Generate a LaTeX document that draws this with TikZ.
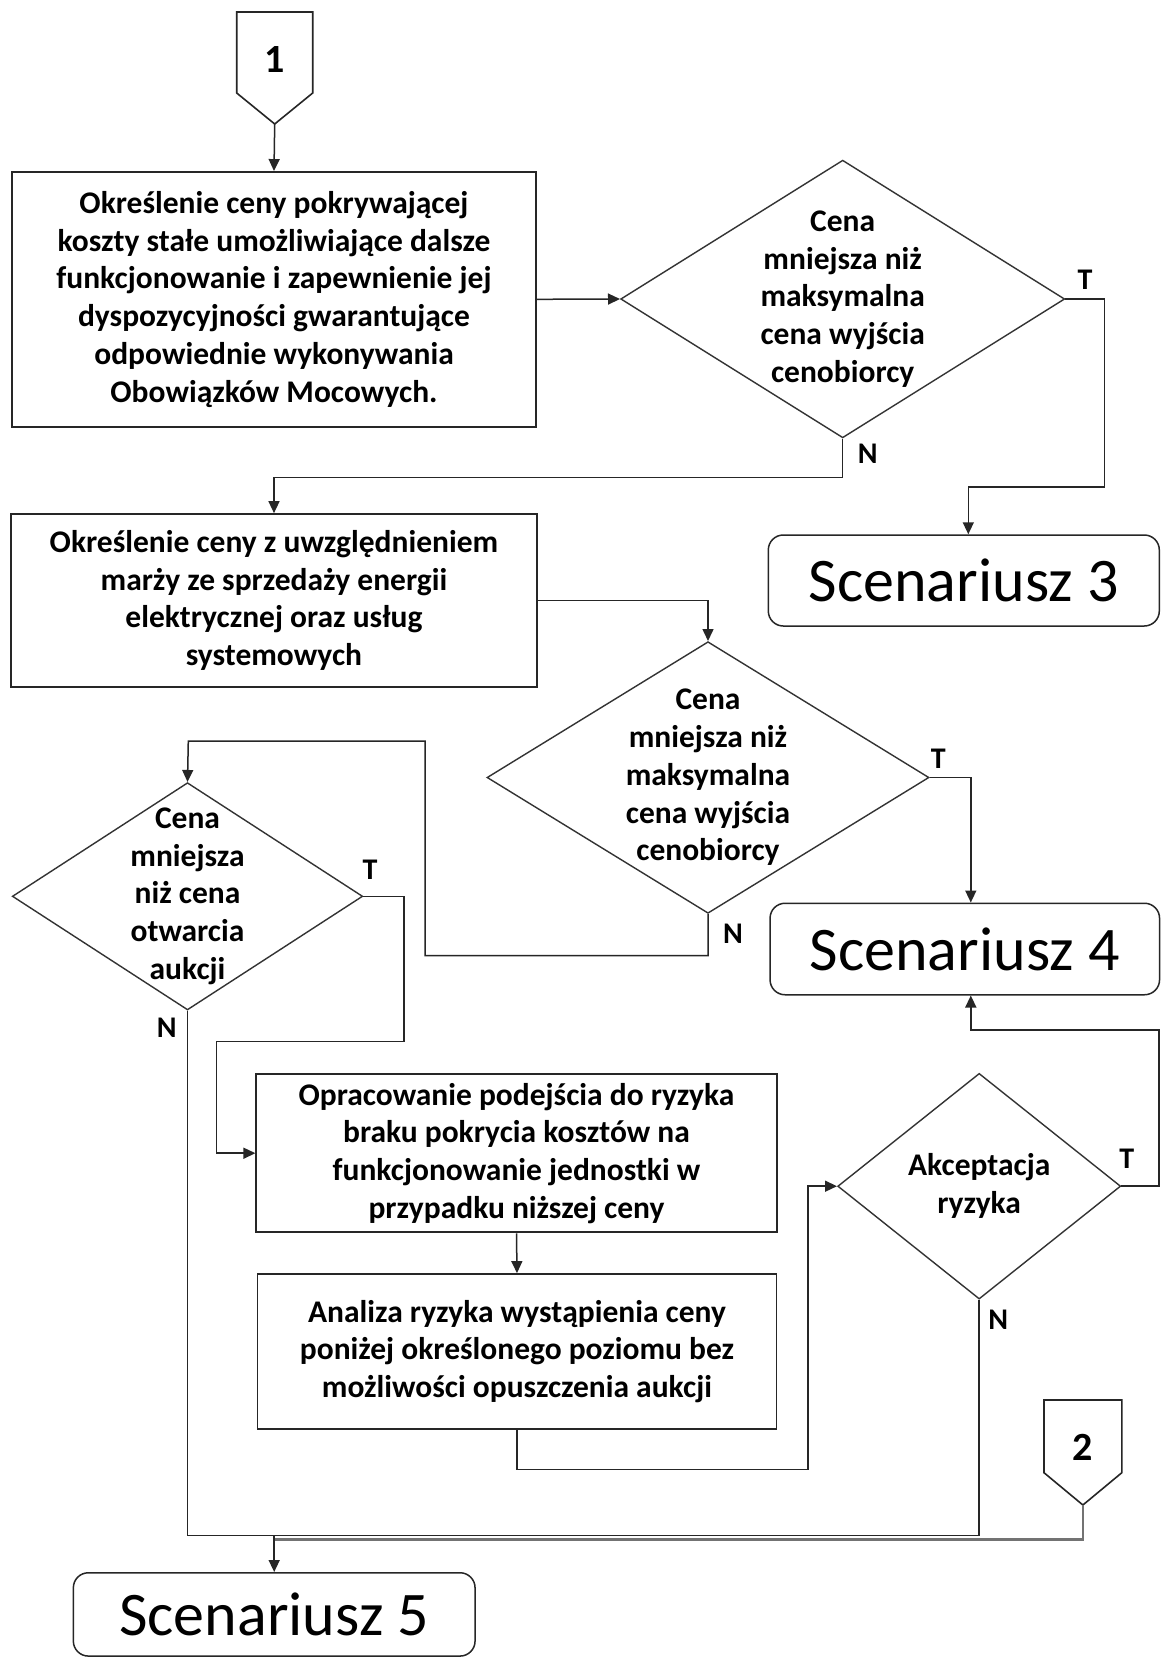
\documentclass[tikz,border=0pt]{standalone}
\usepackage{fontspec}
\setmainfont{Carlito}
\usetikzlibrary{shapes.geometric,arrows.meta,calc}
\newcommand\fcBox{\fontsize{31.5}{37.7}\selectfont\bfseries}
\newcommand\fcScen{\fontsize{62}{70}\selectfont}
\newcommand\fcNum{\fontsize{40}{46}\selectfont\bfseries}
\newcommand\fcLab{\fontsize{30}{34}\selectfont\bfseries}
\begin{document}
\begin{tikzpicture}[x=1pt,y=-1pt,
  line/.style={draw=black!85,line width=1.5pt},
  arr/.style={line,-{Triangle[length=12pt,width=11pt]}},
  stepbox/.style={draw=black!85,line width=1.8pt,rectangle,inner sep=0pt,align=center,font=\fcBox},
  decision/.style={draw=black!80,line width=1.4pt,diamond,inner sep=0pt},
  dtext/.style={align=center,font=\fcBox,inner sep=0pt},
  scen/.style={draw=black!85,line width=1.5pt,rectangle,rounded corners=15pt,inner sep=0pt,font=\fcScen},
  lab/.style={font=\fcLab,inner sep=0pt},
  offpage/.style={draw=black!85,line width=1.6pt,line join=miter}
]
\useasboundingbox[fill=white] (0,0) rectangle (1161,1658);

% off-page connector 1
\draw[offpage] (236.7,12) -- (312.7,12) -- (312.7,93) -- (274.7,124) -- (236.7,93) -- cycle;
\node[inner sep=0pt] (c1) at (274.7,60) {\fcNum 1};
\coordinate (c1tip) at (274.7,124);

% off-page connector 2
\draw[offpage] (1044,1400) -- (1121.8,1400) -- (1121.8,1472.7) -- (1082.9,1505) -- (1044,1472.7) -- cycle;
\node[inner sep=0pt] (c2) at (1082.9,1447) {\fcNum 2};
\coordinate (c2tip) at (1082.9,1505);

% process boxes
\node[stepbox,minimum width=524.6pt,minimum height=254.7pt] (b1) at (274,299.3)
  {Określenie ceny pokrywającej\\koszty stałe umożliwiające dalsze\\funkcjonowanie i zapewnienie jej\\dyspozycyjności gwarantujące\\odpowiednie wykonywania\\Obowiązków Mocowych.};
\node[stepbox,minimum width=525.5pt,minimum height=172.7pt] (b2) at (274,600.4)
  {Określenie ceny z uwzględnieniem\\marży ze sprzedaży energii\\elektrycznej oraz usług\\systemowych};
\node[stepbox,minimum width=520.4pt,minimum height=158.3pt] (b3) at (516.5,1153.2)
  {Opracowanie podejścia do ryzyka\\braku pokrycia kosztów na\\funkcjonowanie jednostki w\\przypadku niższej ceny};
\node[stepbox,minimum width=519pt,minimum height=155pt] (b4) at (517,1351.5)
  {Analiza ryzyka wystąpienia ceny\\poniżej określonego poziomu bez\\możliwości opuszczenia aukcji};

% decisions
\node[decision,minimum width=444pt,minimum height=277.7pt] (d1) at (842.7,299) {};
\node[dtext] (d1t) at (d1.center) {Cena\\mniejsza niż\\maksymalna\\cena wyjścia\\cenobiorcy};
\node[decision,minimum width=442pt,minimum height=271.6pt] (d2) at (708,777.5) {};
\node[dtext] (d2t) at (d2.center) {Cena\\mniejsza niż\\maksymalna\\cena wyjścia\\cenobiorcy};
\node[decision,minimum width=350.4pt,minimum height=227.3pt] (d3) at (187.5,896.3) {};
\node[dtext] (d3t) at (d3.center) {Cena\\mniejsza\\niż cena\\otwarcia\\aukcji};
\node[decision,minimum width=283pt,minimum height=225.7pt] (d4) at (979.2,1186.2) {};
\node[dtext] (d4t) at (d4.center) {Akceptacja\\ryzyka};

% outcomes
\node[scen,minimum width=391pt,minimum height=91pt] (s3) at (963.8,580.5) {Scenariusz 3};
\node[scen,minimum width=389.5pt,minimum height=91.5pt] (s4) at (964.8,949) {Scenariusz 4};
\node[scen,minimum width=401.7pt,minimum height=83.3pt] (s5) at (274.2,1614.4) {Scenariusz 5};

% branch labels
\node[lab] (d1T) at (1085,279.3) {T};
\node[lab] (d1N) at (867.8,453.3) {N};
\node[lab] (d2T) at (938.3,758.3) {T};
\node[lab] (d2N) at (733,933.3) {N};
\node[lab] (d3T) at (370,870) {T};
\node[lab] (d3N) at (166.7,1028) {N};
\node[lab] (d4T) at (1126.7,1158.3) {T};
\node[lab] (d4N) at (998.3,1320) {N};

% routing points
\coordinate (t1) at (1104.6,487);
\coordinate (n1) at (274,477.3);
\coordinate (l1) at (425,955.7);
\coordinate (l2) at (188.3,741);
\coordinate (l3) at (404,1041.7);
\coordinate (l4) at (216.4,1153.2);
\coordinate (l5) at (808,1469.3);
\coordinate (l6) at (1159,1030);
\coordinate (j1) at (0,1535.5);
\coordinate (j2) at (0,1539.5);

% connectors
\draw[arr] (c1tip) -- (b1.north);
\draw[arr] (b1.east) -- (d1.west);
\draw[arr] (d1.east) -| (t1) -| ([xshift=4.5pt]s3.north);
\draw[arr] (d1.south) |- (n1) -- (b2.north);
\draw[arr] (b2.east) -| (d2.north);
\draw[arr] (d2.east) -| ([xshift=6pt]s4.north);
\draw[arr] (d2.south) |- (l1) |- (l2) -- (d3.north);
\draw[arr] (d3.east) -| (l3) -| (l4) -- (b3.west);
\draw[arr] (b3.south) -- (b4.north);
\draw[arr] (b4.south) |- (l5) |- (d4.west);
\draw[arr] (d4.east) -| (l6) -| ([xshift=6pt]s4.south);
\draw[line] (d3.south) -- (d3.south |- j1) -| (d4.south);
\draw[line,draw=black!55,line width=2.2pt] (c2tip) -- (c2tip |- j2) -- (s5.north |- j2);
\draw[arr] (s5.north |- j1) -- (s5.north);
\end{tikzpicture}
\end{document}
